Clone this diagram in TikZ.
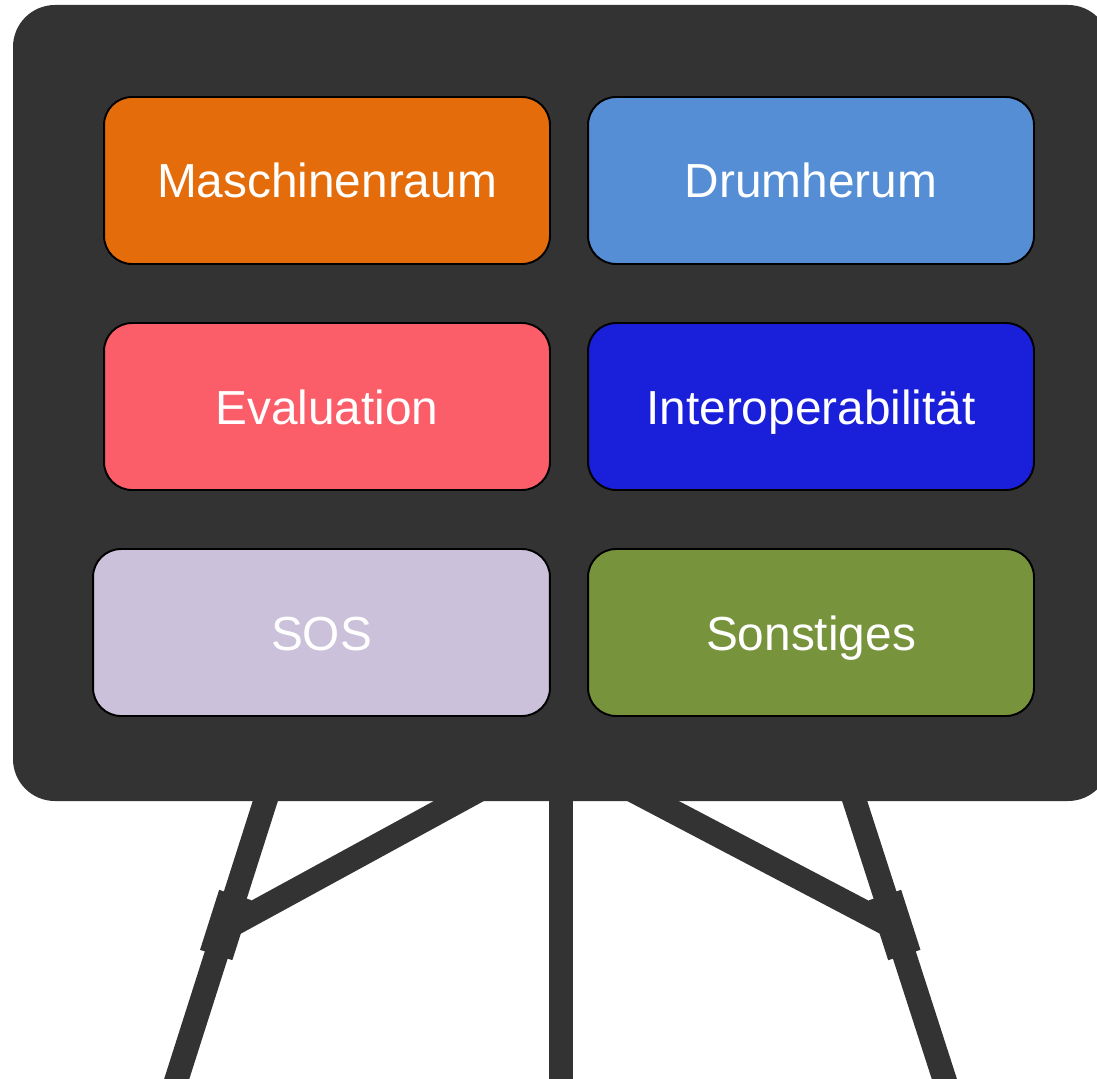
\documentclass[tikz,border=0pt]{standalone}
\usepackage{fontspec}
\setmainfont{Liberation Sans}
\definecolor{boardgray}{HTML}{333333}
\definecolor{maschorange}{HTML}{E46C0A}
\definecolor{drumblue}{HTML}{558ED5}
\definecolor{evalred}{HTML}{FC5E69}
\definecolor{interopblue}{HTML}{1A1FD9}
\definecolor{soslilac}{HTML}{CCC1DA}
\definecolor{sonstgreen}{HTML}{77933C}
\begin{document}
\begin{tikzpicture}[x=0.02cm, y=-0.02cm,
    tile/.style={draw=black, line width=1.1pt, rounded corners=0.56cm,
      minimum width=8.92cm, minimum height=3.34cm, inner sep=0pt,
      text height=0.82cm, text depth=0.12cm,
      text=white, font=\fontsize{27.2}{32}\selectfont},
    leg/.style={boardgray, line width=13.66pt},
    clamp/.style={boardgray, line width=19.3pt}]
        \useasboundingbox (0,0) rectangle (1097,1078);

        \draw[leg] (268.8,790) -- (173.2,1090);
        \draw[leg] (851.1,790) -- (947.9,1090);
        \draw[leg] (561,790) -- (561,1090);
        \draw[leg] (479,790) -- (228,927);
        \draw[leg] (632,790) -- (893,927);

        \draw[clamp] (235.3,895) -- (216.2,955);
        \draw[clamp] (885,895) -- (904.3,955);

        \fill[boardgray, rounded corners=0.84cm] (13,5) rectangle (1110,801);

        \node[tile, fill=maschorange] (masch) at (327,180.5) {Maschinenraum};
        \node[tile, fill=drumblue] (drum) at (811,180.5) {Drumherum};

        \node[tile, fill=evalred] (eval) at (327,406.5) {Evaluation};
        \node[tile, fill=interopblue] (interop) at (811,406.5) {Interoperabilität};

        \node[tile, fill=soslilac, minimum width=9.14cm] (sos) at (321.5,632.5) {SOS};
        \node[tile, fill=sonstgreen] (sonst) at (811,632.5) {Sonstiges};
\end{tikzpicture}
\end{document}
